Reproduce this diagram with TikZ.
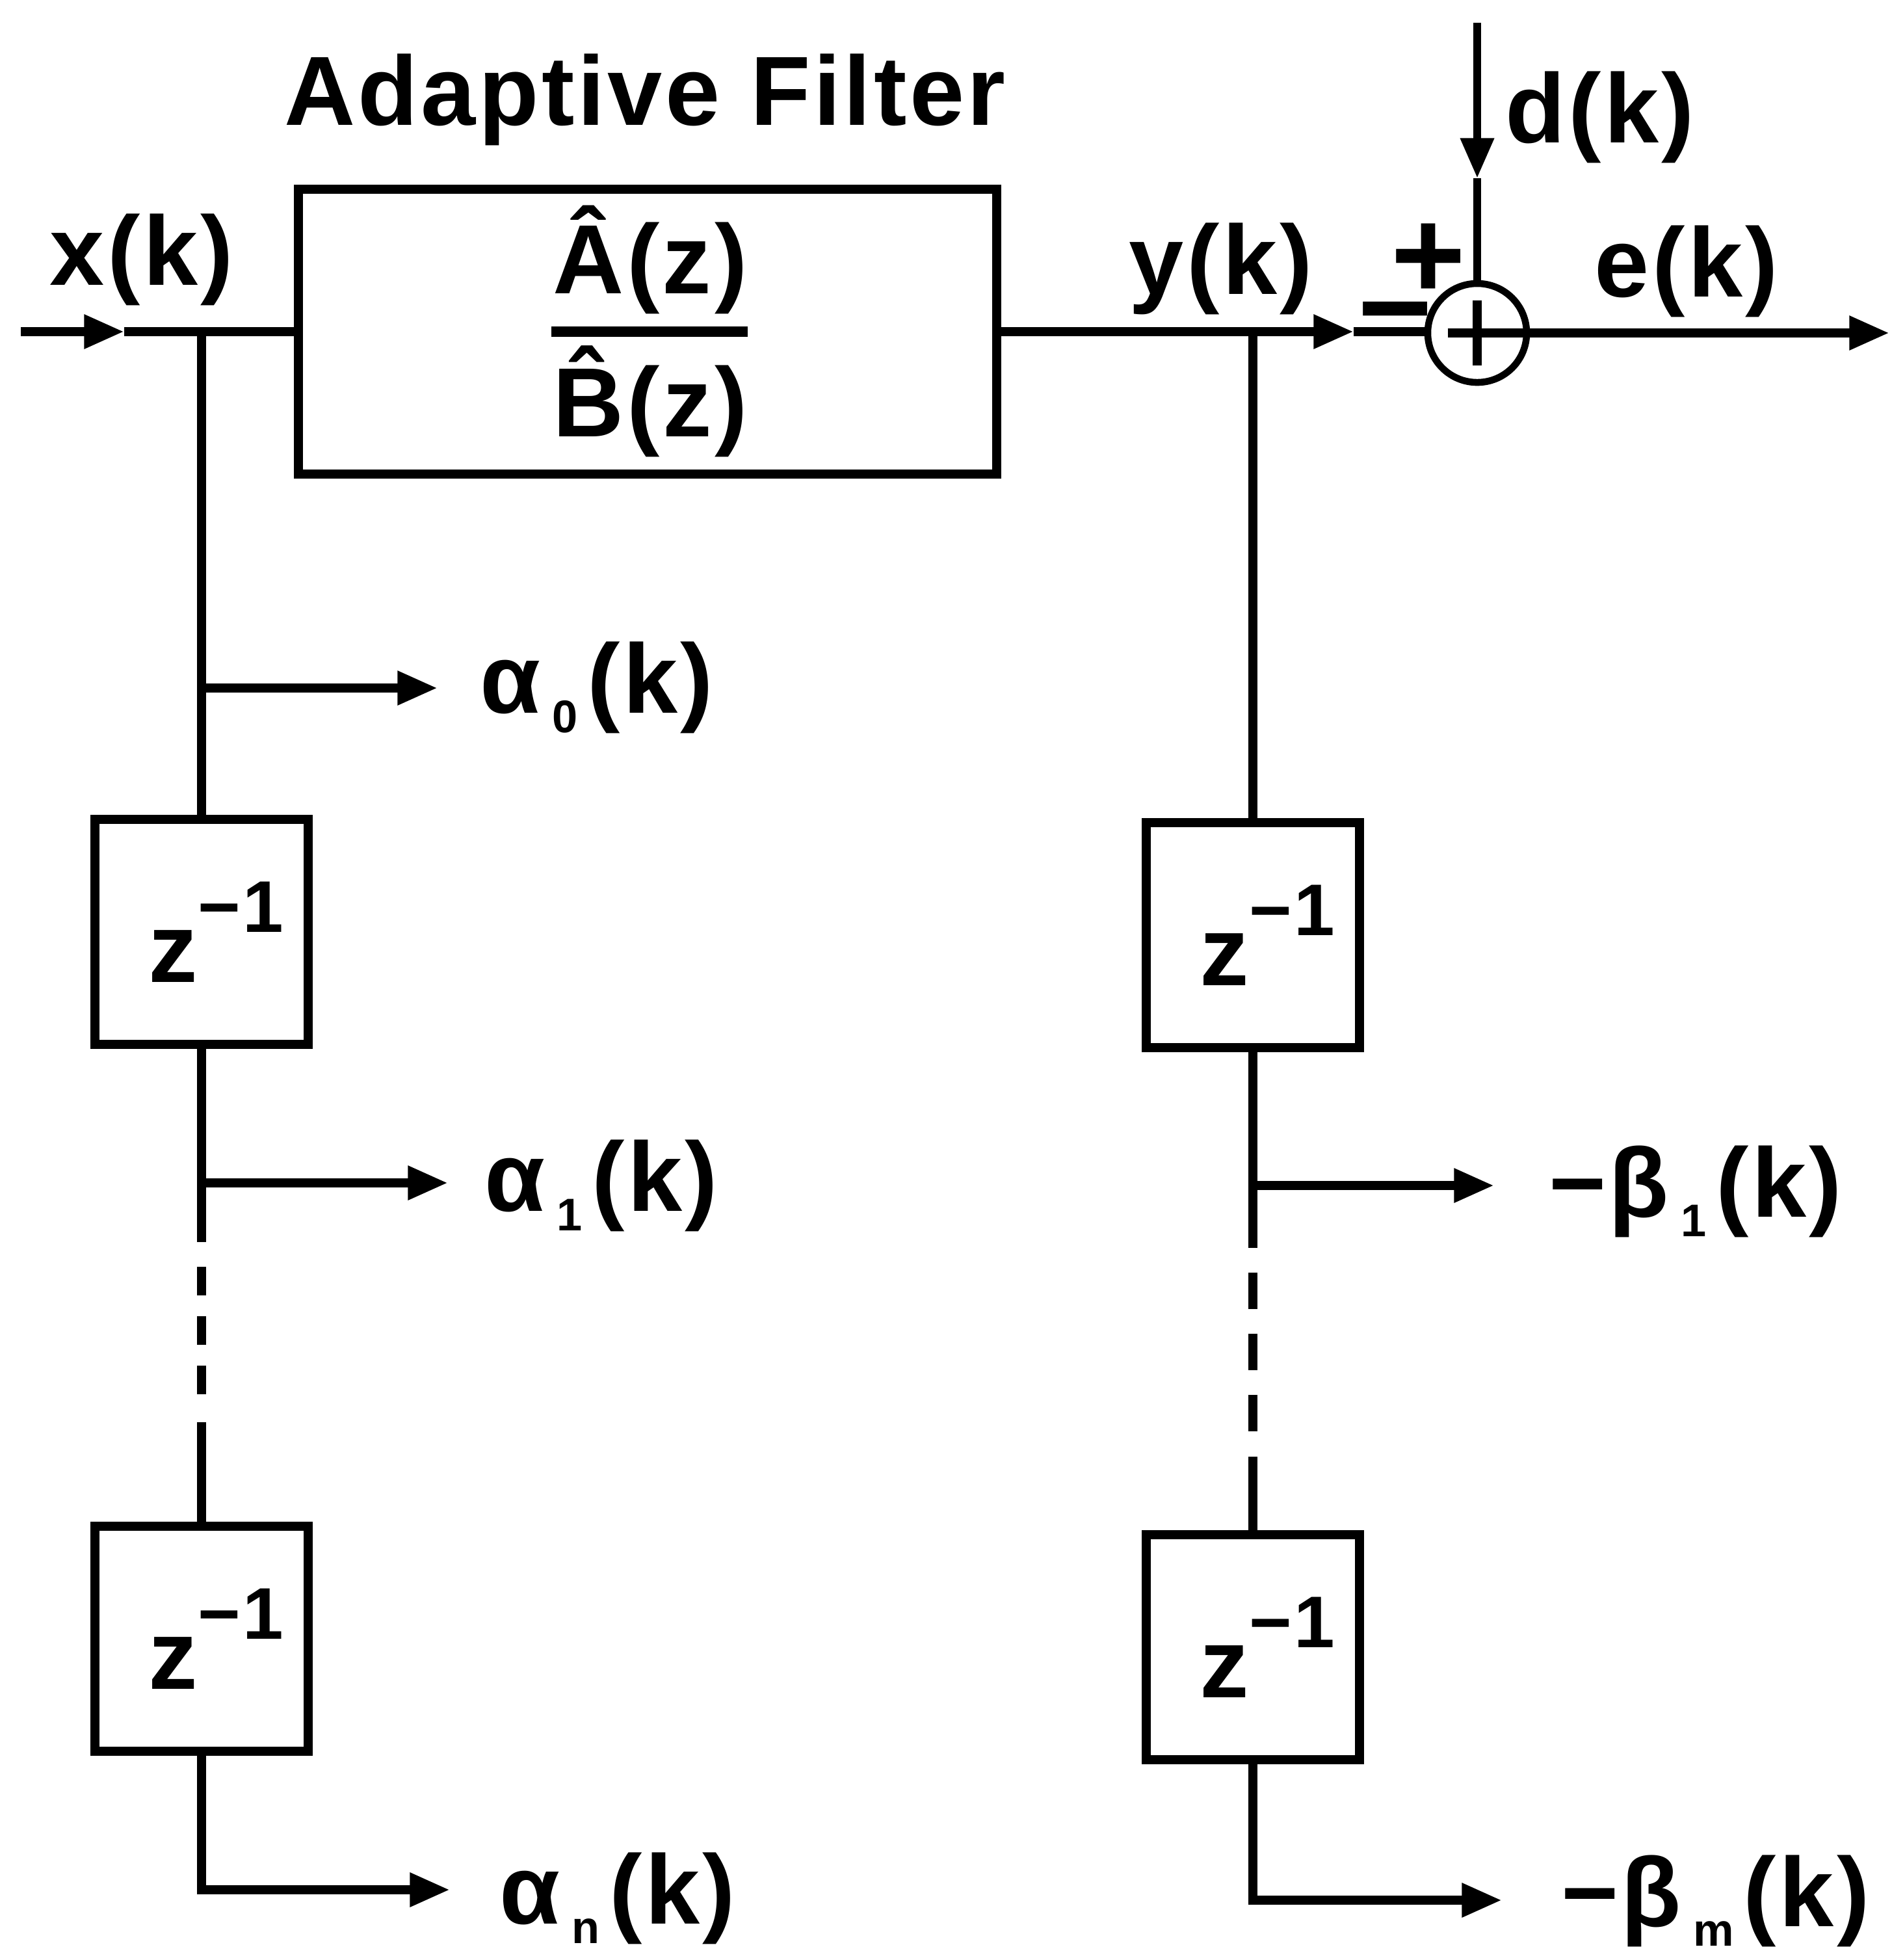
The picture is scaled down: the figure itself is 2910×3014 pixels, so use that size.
\documentclass[tikz,border=0pt]{standalone}
\usepackage{fontspec}
\setmainfont{Liberation Sans}[LetterSpace=3]
\usetikzlibrary{arrows.meta}

% small lowered index after a coefficient letter
\newcommand\lowidx[1]{\hspace{0.12em}\raisebox{-0.2em}{\fontsize{20pt}{20pt}\selectfont #1}\hspace{0.1em}}
% unit delay label
\newcommand\zinv{\hspace{0.45cm}z\raisebox{0.51em}{\fontsize{32pt}{32pt}\selectfont −1}}

\begin{document}
\begin{tikzpicture}[x=0.01cm, y=-0.01cm, line width=4pt,
  every node/.style={font=\fontsize{43pt}{48pt}\bfseries\selectfont, inner sep=0pt},
  arr/.style={-{Triangle[length=17.5pt,width=14pt]}},
  delaybox/.style={draw, line width=4pt, minimum width=3.28cm, minimum height=3.45cm},
  lbl/.style={anchor=base west},
  sign/.style={anchor=base, font=\fontsize{56pt}{60pt}\bfseries\selectfont}]

\useasboundingbox (0,0) rectangle (2910,3014);

% ---- adaptive filter block ----
\node[anchor=base] (title) at (992,192) {Adaptive Filter};
\node[draw, line width=4pt, minimum width=10.74cm, minimum height=4.37cm] (filt) at (996,510) {};
\node[anchor=base] (num) at (1000,451) {Â(z)};
\node[anchor=base] (den) at (1000,671) {B̂(z)};
\draw[line width=4.5pt] (848,510) -- (1150,510);

% ---- signal labels ----
\node[anchor=base] (xk) at (218,438) {x(k)};
\node[anchor=base] (yk) at (1878,452) {y(k)};
\node[anchor=base] (ek) at (2594,456) {e(k)};
\node[anchor=base] (dk) at (2461,219) {d(k)};

% ---- summing junction ----
\node[circle, draw, line width=3pt, minimum size=1.52cm] (sum) at (2272,512) {};
\draw ([xshift=-0.45cm]sum.center) -- (sum.east);
\draw ([yshift=0.5cm]sum.center) -- ([yshift=-0.5cm]sum.center);
% sign pair: plus set above and to the right of the minus
\node[sign] (signs) at (2146,540) {\rlap{\hspace{0.26em}\raisebox{0.41em}{+}}−};

% ---- main signal path ----
\coordinate (in) at (32,510);
\coordinate (inA) at (191,510);
\coordinate (xt) at (310,510);
\coordinate (yt) at (1927,510);
\coordinate (yA) at (2082,510);
\coordinate (dtop) at (2272,35);
\coordinate (dA) at (2272,274);
\coordinate (out) at (2906,512);

\draw[arr] (in) -- (inA);
\draw (inA) -- (filt.west);
\draw[arr] (filt.east) -- (yA);
\draw (yA) -- (yA -| sum.west);
\draw[arr] (sum.east) -- (out);
\draw[line width=3.5pt, arr] (dtop) -- (dA);
\draw[line width=3.5pt] (dA) -- (sum.north);

% ---- input delay line ----
\node[delaybox] (b1) at (310,1433) {\zinv};
\node[delaybox] (b2) at (310,2520) {\zinv};
\coordinate (t0) at (310,1058);
\coordinate (a0A) at (673,1058);
\coordinate (t1) at (310,1819);
\coordinate (a1A) at (689,1819);
\coordinate (l1) at (310,1910);
\coordinate (l2) at (310,1948);
\coordinate (l3) at (310,2144);
\coordinate (l4) at (310,2187);
\coordinate (anA) at (692,2906);

\draw (xt) -- (b1.north);
\draw[arr] (t0) -- (a0A);
\draw (b1.south) -- (l1);
\draw[arr] (t1) -- (a1A);
\draw[dash pattern=on 12.5pt off 9.1pt] (l2) -- (l3);
\draw (l4) -- (b2.north);
\draw[arr] (b2.south) |- (anA);

\node[lbl] (a0) at (731,1096) {α\lowidx{0}(k)};
\node[lbl] (a1) at (738,1862) {α\lowidx{1}(k)};
\node[lbl] (an) at (761,2958) {α\lowidx{n}(k)};

% ---- output delay line ----
\node[delaybox] (c1) at (1927,1438) {\zinv};
\node[delaybox] (c2) at (1927,2533) {\zinv};
\coordinate (s1) at (1927,1823);
\coordinate (b1A) at (2298,1823);
\coordinate (r1) at (1927,1919);
\coordinate (r2) at (1927,1957);
\coordinate (r3) at (1927,2201);
\coordinate (r4) at (1927,2240);
\coordinate (bmA) at (2310,2922);

\draw (yt) -- (c1.north);
\draw (c1.south) -- (r1);
\draw[arr] (s1) -- (b1A);
\draw[dash pattern=on 15.9pt off 10.8pt] (r2) -- (r3);
\draw (r4) -- (c2.north);
\draw[arr] (c2.south) |- (bmA);

\node[lbl] (beta1) at (2375,1871) {−β\lowidx{1}(k)};
\node[lbl] (betam) at (2394,2962) {−β\lowidx{m}(k)};

\end{tikzpicture}
\end{document}
